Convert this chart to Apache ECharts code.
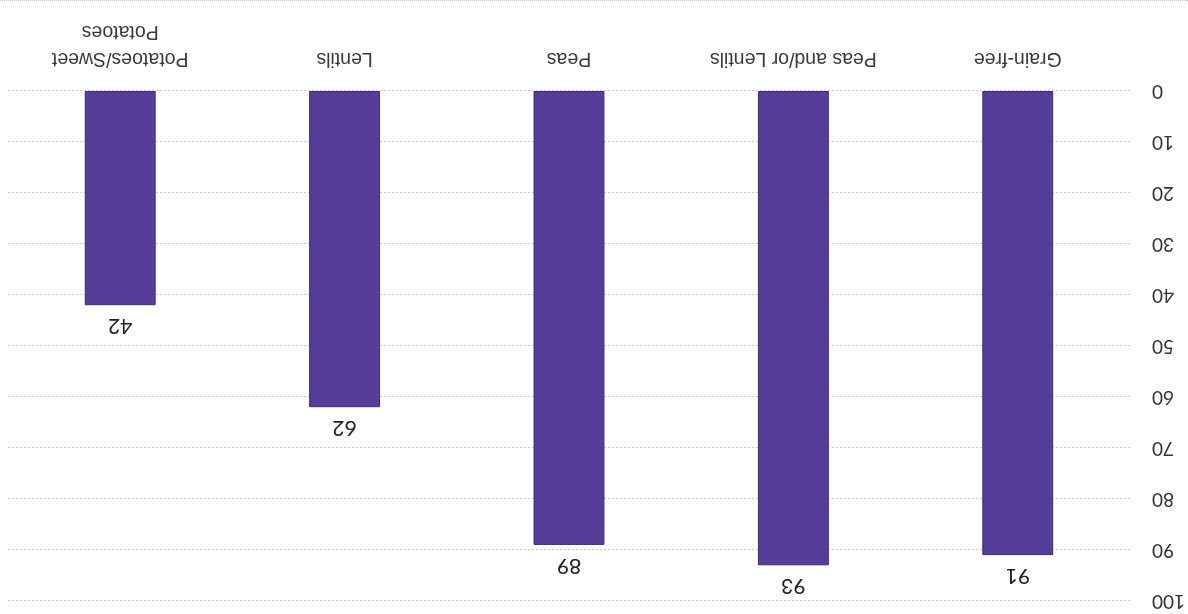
<!DOCTYPE html>
<html>
<head>
<meta charset="utf-8">
<script src="https://cdn.jsdelivr.net/npm/echarts@6/dist/echarts.min.js"></script>
<style>
  html, body { margin: 0; padding: 0; background: #fff; }
  #chart { width: 1188px; height: 614px; transform: rotate(180deg); transform-origin: 50% 50%; box-sizing: border-box; border-bottom: 1px dotted #c8c8c8; }
</style>
</head>
<body>
<div id="chart"></div>
<script>
const categories = ['Grain-free', 'Peas and/or Lentils', 'Peas', 'Lentils', 'Potatoes/Sweet Potatoes'];
const values = [91, 93, 89, 62, 42];
const yTicks = { min: 0, max: 100, interval: 10 };

const chart = echarts.init(document.getElementById('chart'), null, { renderer: 'canvas' });
chart.setOption({
  animation: false,
  grid: { left: 58, right: 8, top: 13, bottom: 90, containLabel: false },
  xAxis: {
    type: 'category',
    data: categories,
    axisLine: { show: false },
    axisTick: { show: false },
    axisLabel: {
      interval: 0,
      margin: 19,
      fontFamily: 'Liberation Sans',
      fontSize: 19.5,
      color: '#3a3a3a',
      lineHeight: 27,
      formatter: v => v.replace('/Sweet ', '/Sweet\n')
    }
  },
  yAxis: {
    type: 'value',
    min: yTicks.min,
    max: yTicks.max,
    interval: yTicks.interval,
    axisLine: { show: false },
    axisTick: { show: false },
    axisLabel: { margin: 22, fontFamily: 'Lato', fontSize: 19, color: '#333' },
    splitLine: { show: true, lineStyle: { color: '#cbcbcb', type: [2, 2], width: 1 } }
  },
  series: [{
    type: 'bar',
    data: values,
    barWidth: '31.6%',
    itemStyle: { color: '#553d99', borderColor: '#3f2b7a', borderWidth: 1 },
    label: {
      show: true,
      position: 'top',
      distance: 10,
      fontFamily: 'Lato',
      fontSize: 21,
      color: '#222'
    }
  }]
});
</script>
</body>
</html>
